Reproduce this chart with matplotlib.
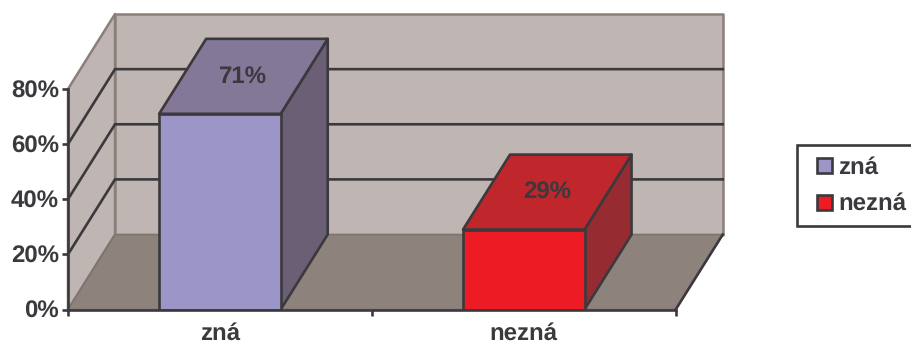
import matplotlib.pyplot as plt
from matplotlib.patches import Polygon, Rectangle

plt.rcParams["font.family"] = ["Liberation Sans", "DejaVu Sans"]
plt.rcParams["font.weight"] = "bold"
plt.rcParams["text.hinting"] = "no_hinting"
plt.rcParams["text.hinting_factor"] = 1

categories = ["zná", "nezná"]
values = [71, 29]
y_ticks = [0, 20, 40, 60, 80]

INK = "#3b393d"
WALL = "#bfb6b3"
FLOOR = "#8e827c"
WALL_EDGE = "#8b7f7a"
FRONT = ["#9c95c8", "#ed1c24"]
TOP = ["#837898", "#bf272d"]
SIDE = ["#6a5f75", "#962c32"]

# oblique depth of the fake 3D box, in data units
DX = 0.1547
DY = 27.2
BAR_W = 0.4
LW = 1.9
FS = 17.5

W, H = 911, 345
fig = plt.figure(figsize=(W / 100, H / 100), dpi=100)
ax = fig.add_axes([68 / W, 1 - 309.5 / H, 607.7 / W, 220.5 / H])
ax.set_xlim(-0.5, 1.5)
ax.set_ylim(0, 80)
ax.patch.set_visible(False)


def face(points, color, edge=INK, z=3, lw=LW):
    ax.add_patch(Polygon(points, closed=True, facecolor=color, edgecolor=edge, linewidth=lw,
                         joinstyle="round", clip_on=False, zorder=z))


x0, x1 = ax.get_xlim()
top = y_ticks[-1]

# walls and floor
face([(x0, 0), (x0 + DX, DY), (x0 + DX, top + DY), (x0, top)], WALL, WALL_EDGE, 1, 1.8)
face([(x0 + DX, DY), (x1 + DX, DY), (x1 + DX, top + DY), (x0 + DX, top + DY)], WALL, WALL_EDGE, 1, 1.8)
face([(x0, 0), (x1, 0), (x1 + DX, DY), (x0 + DX, DY)], FLOOR, "#7f736e", 1.5, 1.2)
ax.plot([x1, x1 + DX], [0, DY], color=INK, lw=LW, clip_on=False, zorder=1.6)

# gridlines run along the side wall and the back wall
for t in y_ticks[1:-1]:
    ax.plot([x0, x0 + DX, x1 + DX], [t, t + DY, t + DY], color=INK, lw=LW,
            clip_on=False, zorder=2, solid_joinstyle="miter")

# bars
for i, v in enumerate(values):
    l, r = i - BAR_W / 2, i + BAR_W / 2
    face([(r, 0), (r + DX, DY), (r + DX, v + DY), (r, v)], SIDE[i])
    face([(l, v), (r, v), (r + DX, v + DY), (l + DX, v + DY)], TOP[i])
    ax.bar(i, v, width=BAR_W, color=FRONT[i], edgecolor=INK, linewidth=LW, zorder=4)
    ax.text(i + DX / 2, v + DY / 2, f"{v}%", ha="center", va="center", fontsize=FS,
            color=INK, zorder=5)

# axes
for side in ["top", "right"]:
    ax.spines[side].set_visible(False)
for side in ["left", "bottom"]:
    ax.spines[side].set_color(INK)
    ax.spines[side].set_linewidth(LW)
    ax.spines[side].set_zorder(6)

ax.set_yticks(y_ticks)
ax.set_yticklabels([f"{t}%" for t in y_ticks])
ax.tick_params(axis="y", length=4.5, width=LW, color=INK, labelcolor=INK, labelsize=FS, pad=2)

ax.set_xticks([-0.5, 0.5, 1.5])
ax.set_xticklabels([])
ax.set_xticks([0, 1], labels=categories, minor=True)
ax.tick_params(axis="x", which="major", length=4.5, width=LW, color=INK)
ax.tick_params(axis="x", which="minor", length=0, labelcolor=INK, labelsize=FS, pad=9)


# legend box, drawn in pixel coordinates; it runs off the right edge
def px(x, y):
    return x / W, 1 - y / H


fig.add_artist(Rectangle(px(797, 226), 130 / W, 81 / H, transform=fig.transFigure,
                         facecolor="white", edgecolor=INK, linewidth=LW))
for i, name in enumerate(categories):
    y_mid = 165.5 + i * 36.5
    fig.add_artist(Rectangle(px(816.5, y_mid + 7.5), 15.5 / W, 15 / H, transform=fig.transFigure,
                             facecolor=FRONT[i], edgecolor=INK, linewidth=LW))
    fig.text(838 / W, 1 - (y_mid + 8) / H, name, ha="left", va="baseline", fontsize=FS,
             color=INK)

fig.savefig("out.png", dpi=100)
